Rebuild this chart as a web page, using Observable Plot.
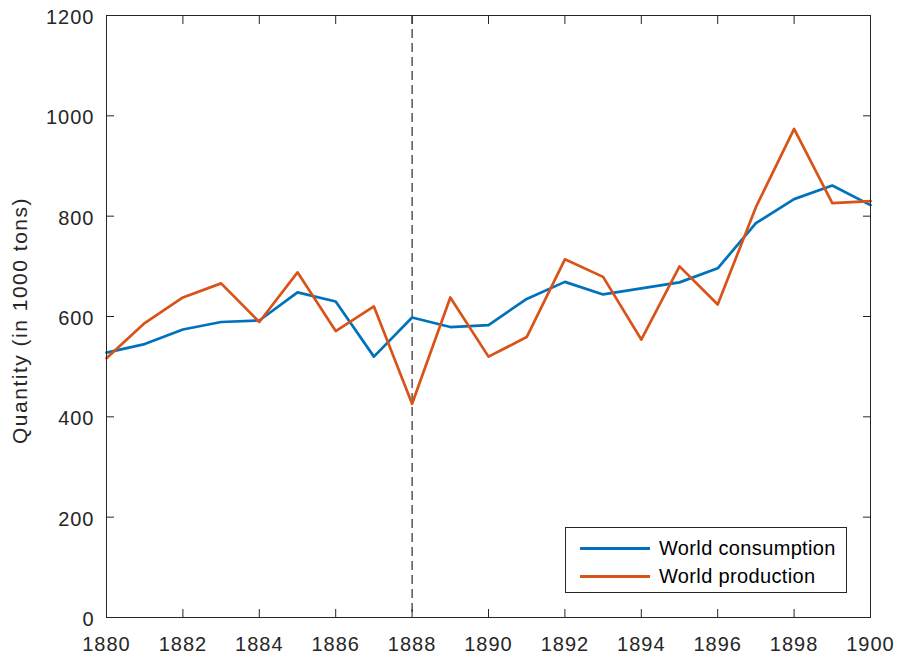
<!DOCTYPE html>
<html>
<head>
<meta charset="utf-8">
<script src="https://cdn.jsdelivr.net/npm/d3@7"></script>
<script src="https://cdn.jsdelivr.net/npm/@observablehq/plot@0.6"></script>
<style>
  body { margin: 0; background: #fff; }
  #wrap { position: relative; width: 901px; height: 661px; font-family: "Liberation Sans", Arial, sans-serif; }
  #legend { position: absolute; left: 565px; top: 527px; width: 282px; height: 66px; border: 1px solid #262626; background: #fff; box-sizing: border-box; }
  .item { position: absolute; left: 14px; height: 22px; display: flex; align-items: center; font-size: 20px; letter-spacing: 0.35px; color: #000; white-space: nowrap; }
  .swatch { width: 70px; height: 0; border-top: 3px solid; margin-right: 9px; }
</style>
</head>
<body>
<div id="wrap"></div>
<script>
const years = [1880,1881,1882,1883,1884,1885,1886,1887,1888,1889,1890,1891,1892,1893,1894,1895,1896,1897,1898,1899,1900];
const consumption = [528,545,574,589,592,648,630,520,598,579,583,635,669,644,656,668,696,786,834,861,822];
const production = [517,587,638,666,589,688,571,620,426,638,520,559,714,679,554,700,624,818,974,826,830];
const seriesNames = ["World consumption", "World production"];
const seriesColors = ["#0072BD", "#D95319"];
const xTicks = [1880,1882,1884,1886,1888,1890,1892,1894,1896,1898,1900];
const yTicks = [0,200,400,600,800,1000,1200];
const markerYear = [1888];

const rows = [];
years.forEach((y, i) => {
  rows.push({year: y, value: consumption[i], series: seriesNames[0]});
  rows.push({year: y, value: production[i], series: seriesNames[1]});
});

const ink = "#262626";
const plot = Plot.plot({
  width: 901,
  height: 661,
  marginLeft: 106,
  marginRight: 31,
  marginTop: 15,
  marginBottom: 44,
  style: {fontFamily: "'Liberation Sans', Arial, sans-serif", fontSize: "20px", color: ink, background: "#fff"},
  x: {domain: [1880, 1900]},
  y: {domain: [0, 1200]},
  color: {domain: seriesNames, range: seriesColors},
  marks: [
    Plot.ruleX(markerYear, {stroke: "#000", strokeWidth: 1, strokeDasharray: "9,5"}),
    Plot.line(rows, {x: "year", y: "value", z: "series", stroke: "series", strokeWidth: 2.7}),
    Plot.frame({stroke: ink, strokeWidth: 1}),
    Plot.axisX(xTicks, {anchor: "bottom", tickSize: -8, tickPadding: 27, tickFormat: "d", label: null, stroke: ink, fill: ink, fontSize: 20}),
    Plot.axisX(xTicks, {anchor: "top", tickSize: -8, text: null, label: null, stroke: ink}),
    Plot.axisY(yTicks, {anchor: "left", tickSize: -8, tickPadding: 20, tickFormat: "d", label: "Quantity (in 1000 tons)", labelAnchor: "center", labelArrow: "none", labelOffset: 94, stroke: ink, fill: ink, fontSize: 20}),
    Plot.axisY(yTicks, {anchor: "right", tickSize: -8, text: null, label: null, stroke: ink})
  ]
});
const wrap = document.getElementById("wrap");
wrap.appendChild(plot);

plot.querySelectorAll('g[aria-label="x-axis tick label"] text, g[aria-label="y-axis tick label"] text').forEach(t => { t.style.letterSpacing = "1px"; });
plot.querySelectorAll('g[aria-label="y-axis tick label"]').forEach(g => {
  const tr = g.getAttribute("transform") || "";
  g.setAttribute("transform", (tr + " translate(0,2)").trim());
});
plot.querySelectorAll('g[aria-label="y-axis label"]').forEach(g => {
  const tr = g.getAttribute("transform") || "";
  g.setAttribute("transform", (tr + " translate(0,4)").trim());
  g.querySelectorAll("text").forEach(t => { t.style.letterSpacing = "1.5px"; t.style.fontSize = "21px"; });
});

const legend = document.createElement("div");
legend.id = "legend";
seriesNames.forEach((name, i) => {
  const item = document.createElement("div");
  item.className = "item";
  item.style.top = (9 + i * 28) + "px";
  const sw = document.createElement("span");
  sw.className = "swatch";
  sw.style.borderTopColor = seriesColors[i];
  const t = document.createElement("span");
  t.textContent = name;
  item.appendChild(sw);
  item.appendChild(t);
  legend.appendChild(item);
});
wrap.appendChild(legend);
</script>
</body>
</html>
